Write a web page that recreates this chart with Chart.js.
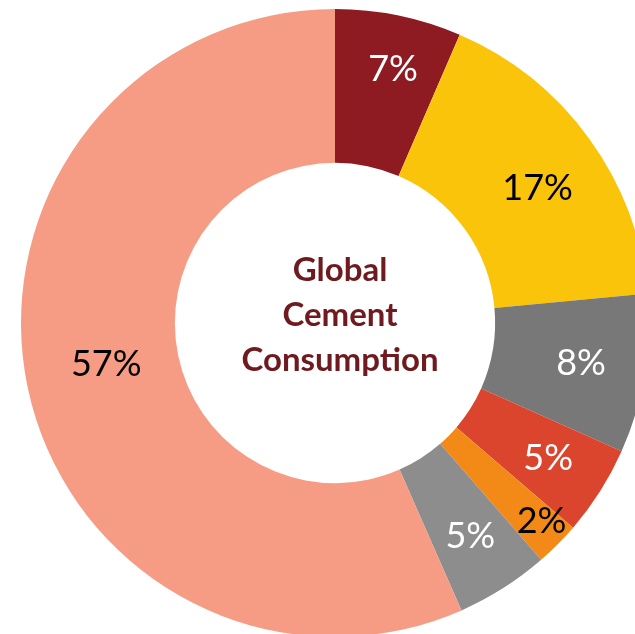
<!DOCTYPE html>
<html>
<head>
<meta charset="utf-8">
<script src="https://cdn.jsdelivr.net/npm/chart.js@4.4.1/dist/chart.umd.min.js"></script>
<style>
    html, body { margin: 0; padding: 0; background: #fff; overflow: hidden; }
    #wrap { position: absolute; left: 0; top: 0; width: 670px; height: 646px; }
</style>
</head>
<body>
<div id="wrap"><canvas id="cementChart"></canvas></div>
<script>
// segment shares (clockwise from 12 o'clock)
const segments = ['Seg A', 'Seg B', 'Seg C', 'Seg D', 'Seg E', 'Seg F', 'Seg G'];
const shares = [6.5, 17, 8.2, 4.6, 2.3, 4.8, 56.6];
const shareLabels = ['7%', '17%', '8%', '5%', '2%', '5%', '57%'];
const segColors = ['#8E1A22', '#FAC40B', '#787878', '#DC452D', '#F38A18', '#8D8D8D', '#F69C85'];
const labelColors = ['#fff', '#000', '#fff', '#fff', '#000', '#fff', '#000'];
const centerLines = ['Global', 'Cement', 'Consumption'];

// label placement inside the ring: fraction of ring width, and angle nudge (deg)
const labelDepth = [0.65, 0.54, 0.58, 0.6, 0.82, 0.6, 0.47];
const labelNudge = [1.2, 2.4, 0, 0, -1, 0, 1.7];

// draws the % text inside each slice
const sliceLabels = {
    id: 'sliceLabels',
    afterDatasetsDraw(chart) {
        const ctx = chart.ctx;
        const meta = chart.getDatasetMeta(0);
        ctx.save();
        ctx.font = '36px Lato, "Open Sans", sans-serif';
        ctx.textAlign = 'center';
        ctx.textBaseline = 'middle';
        meta.data.forEach((arc, i) => {
            const p = arc.getProps(['x', 'y', 'startAngle', 'endAngle', 'innerRadius', 'outerRadius']);
            const mid = (p.startAngle + p.endAngle) / 2 + labelNudge[i] * Math.PI / 180;
            const r = p.innerRadius + (p.outerRadius - p.innerRadius) * labelDepth[i];
            ctx.fillStyle = labelColors[i];
            ctx.fillText(shareLabels[i], p.x + Math.cos(mid) * r, p.y + Math.sin(mid) * r);
        });
        ctx.restore();
    }
};

const centerText = {
    id: 'centerText',
    afterDraw(chart) {
        const ctx = chart.ctx;
        const arc = chart.getDatasetMeta(0).data[0];
        ctx.save();
        ctx.font = 'bold 33px Lato, "Open Sans", sans-serif';
        ctx.fillStyle = '#6E1A1F';
        ctx.textAlign = 'center';
        ctx.textBaseline = 'middle';
        centerLines.forEach((line, i) => {
            ctx.fillText(line, arc.x + 5, arc.y - 52.5 + i * 45);
        });
        ctx.restore();
    }
};

new Chart(document.getElementById('cementChart'), {
    type: 'doughnut',
    data: {
        labels: segments,
        datasets: [{
            data: shares,
            backgroundColor: segColors,
            borderWidth: 0
        }]
    },
    options: {
        responsive: true,
        maintainAspectRatio: false,
        animation: false,
        cutout: '51%',
        layout: { padding: 9 },
        plugins: {
            legend: { display: false },
            tooltip: { enabled: false }
        }
    },
    plugins: [sliceLabels, centerText]
});
</script>
</body>
</html>
